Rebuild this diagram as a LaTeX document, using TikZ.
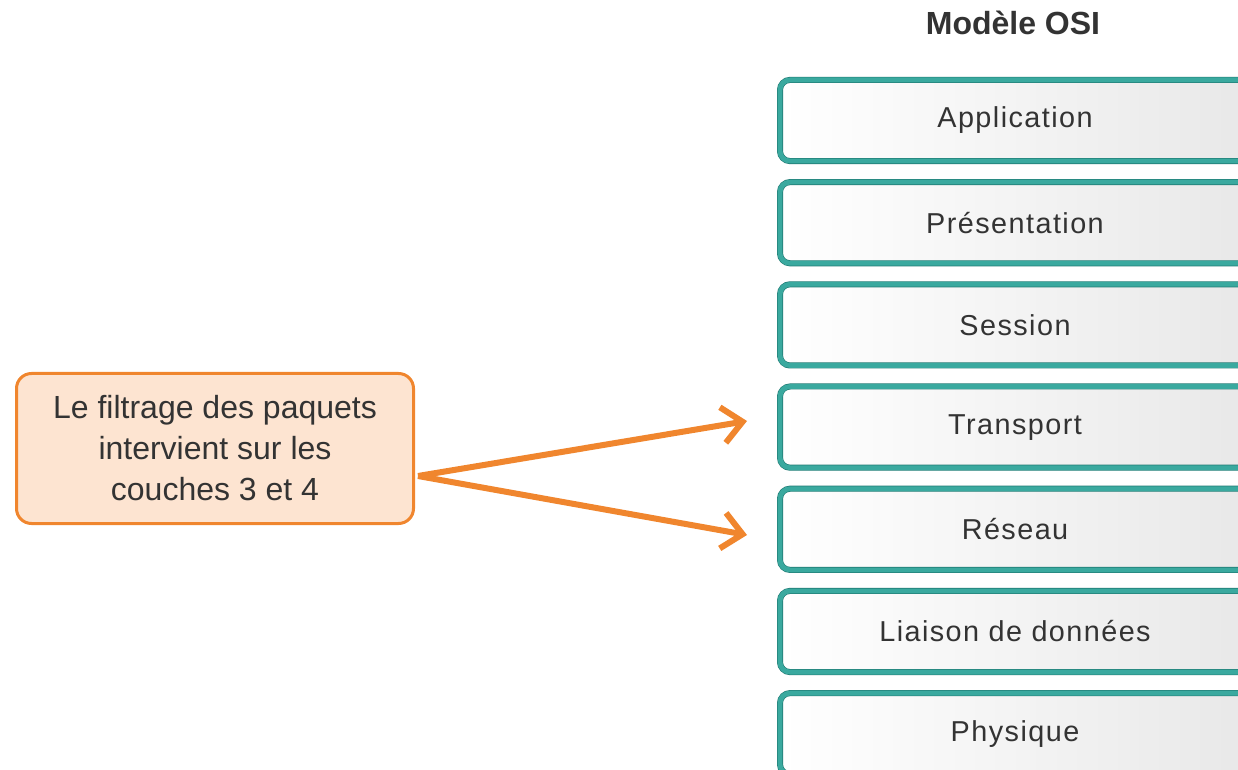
\documentclass[tikz,border=0pt]{standalone}
\usepackage{fontspec}
\setmainfont{Liberation Sans}
\newfontfamily\couchefont[LetterSpace=5]{Liberation Sans}
\usetikzlibrary{arrows.meta,positioning}

\definecolor{ositeal}{HTML}{3AA99F}
\definecolor{osidark}{HTML}{1F7A73}
\definecolor{filtreorange}{HTML}{F0862E}
\definecolor{filtrefond}{HTML}{FDE4D1}
\definecolor{texte}{HTML}{333333}

\begin{document}
\begin{tikzpicture}[x=0.5pt,y=-0.5pt,
    couche/.style={draw=osidark, line width=0.3pt, double=ositeal, double distance=2.4pt,
      rounded corners=5pt, left color=white, right color=black!9,
      minimum width=235pt, minimum height=40.6pt, inner sep=0pt,
      text=texte, font=\couchefont\fontsize{14.4}{17}\selectfont},
    filtre/.style={draw=filtreorange, line width=1.5pt, fill=filtrefond, rounded corners=7.5pt,
      minimum width=198.5pt, minimum height=75pt, align=center, text=texte,
      font=\fontsize{16}{20.5}\selectfont},
    fleche/.style={draw=filtreorange, line width=3pt, -{Straight Barb[length=10pt,width=18pt]}},
    node distance=10.2pt]
\useasboundingbox (0,0) rectangle (1238,770);
\clip (0,0) rectangle (1238,770);

% titre
\node[text=texte, font=\bfseries\fontsize{16}{19}\selectfont] (titre) at (1013,23) {Modèle OSI};

% les sept couches
\node[couche] (app) at (1015,120.5) {Application};
\node[couche, below=of app] (pres) {Présentation};
\node[couche, below=of pres] (sess) {Session};
\node[couche, below=of sess] (trans) {Transport};
\node[couche, below=of trans] (res) {Réseau};
\node[couche, below=of res] (liais) {Liaison de données};
\node[couche, below=of liais] (phys) {Physique};

% filtrage
\node[filtre] (boite) at (215,448.5) {Le filtrage des paquets\\intervient sur les\\couches 3 et 4};

\coordinate (depart) at (418,476);
\coordinate (vers4) at (747,421);
\coordinate (vers3) at (747,535);
\draw[fleche] (depart) -- (vers4);
\draw[fleche] (depart) -- (vers3);
\end{tikzpicture}
\end{document}
